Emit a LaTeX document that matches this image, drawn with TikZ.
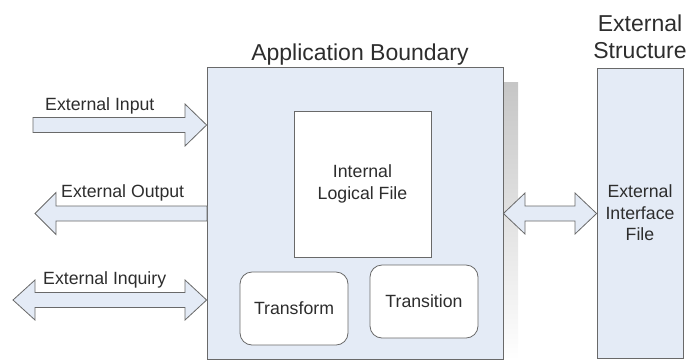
\documentclass[tikz,border=0pt]{standalone}
\usepackage{fontspec}
\setmainfont{Liberation Sans}
\definecolor{boxfill}{RGB}{228,235,246}
\definecolor{edge}{RGB}{105,105,105}
\definecolor{txt}{RGB}{45,45,45}
\begin{document}
\begin{tikzpicture}[x=1pt,y=-1pt,
  box/.style={draw=edge, line width=0.8pt, fill=boxfill, inner sep=0pt},
  inbox/.style={draw=edge, line width=0.8pt, fill=white, inner sep=0pt, text=txt,
    align=center, font=\fontsize{17.7}{21.5}\selectfont},
  rbox/.style={inbox, rounded corners=12pt},
  blk/.style={draw=edge, line width=0.8pt, fill=boxfill, line join=miter},
  lbl/.style={text=txt, inner sep=0pt, font=\fontsize{17.7}{21.5}\selectfont},
  ttl/.style={text=txt, inner sep=0pt, align=center, font=\fontsize{23}{26.5}\selectfont}]
\useasboundingbox (0,0) rectangle (690,360);
% shadow
\shade[top color=gray!45, bottom color=white] (503,82) rectangle (518,360);
% application boundary
\node[box, minimum width=296pt, minimum height=292pt] (app) at (355,213) {};
\node[ttl, anchor=base] (apptitle) at (360,60) {Application Boundary};
\node[inbox, minimum width=137pt, minimum height=146pt] (ilf) at (362.5,184) {Internal\\Logical File};
\node[rbox, minimum width=108pt, minimum height=73pt] (tf) at (294,308.5) {Transform};
\node[rbox, minimum width=108pt, minimum height=73pt] (tr) at (424,301.5) {Transition};
% external structure
\node[box, minimum width=86pt, minimum height=290pt, text=txt, align=center,
  font=\fontsize{17.7}{21.5}\selectfont] (ext) at (640,213) {External\\Interface\\File};
\node[ttl] (exttitle) at (640,37) {External\\Structure};
% block arrows
\coordinate (inTip) at (app.west |- 0,125);
\coordinate (outTail) at (app.west |- 0,213.5);
\coordinate (inqTip) at (app.west |- 0,300);
\coordinate (midL) at (app.east |- 0,213.5);
\coordinate (midR) at (ext.west |- 0,213.5);
\draw[blk] (33,117.5) -- (185,117.5) -- (185,104) -- (inTip) -- (185,146) -- (185,132.5) -- (33,132.5) -- cycle;
\draw[blk] (207,206) -- (56,206) -- (56,192.5) -- (35,213.5) -- (56,234.5) -- (56,221) -- (207,221) -- cycle;
\draw[blk] (13,300) -- (35,280) -- (35,292.5) -- (185,292.5) -- (185,280) -- (inqTip) -- (185,320) -- (185,307.5) -- (35,307.5) -- (35,320) -- cycle;
\draw[blk] (midL) -- (525,193) -- (525,206) -- (575,206) -- (575,193) -- (midR) -- (575,234) -- (575,221) -- (525,221) -- (525,234) -- cycle;
% labels
\node[lbl, anchor=base west] (inL) at (45,110) {External Input};
\node[lbl, anchor=base west] (outL) at (61,197) {External Output};
\node[lbl, anchor=base west] (inqL) at (43,284) {External Inquiry};
\end{tikzpicture}
\end{document}
